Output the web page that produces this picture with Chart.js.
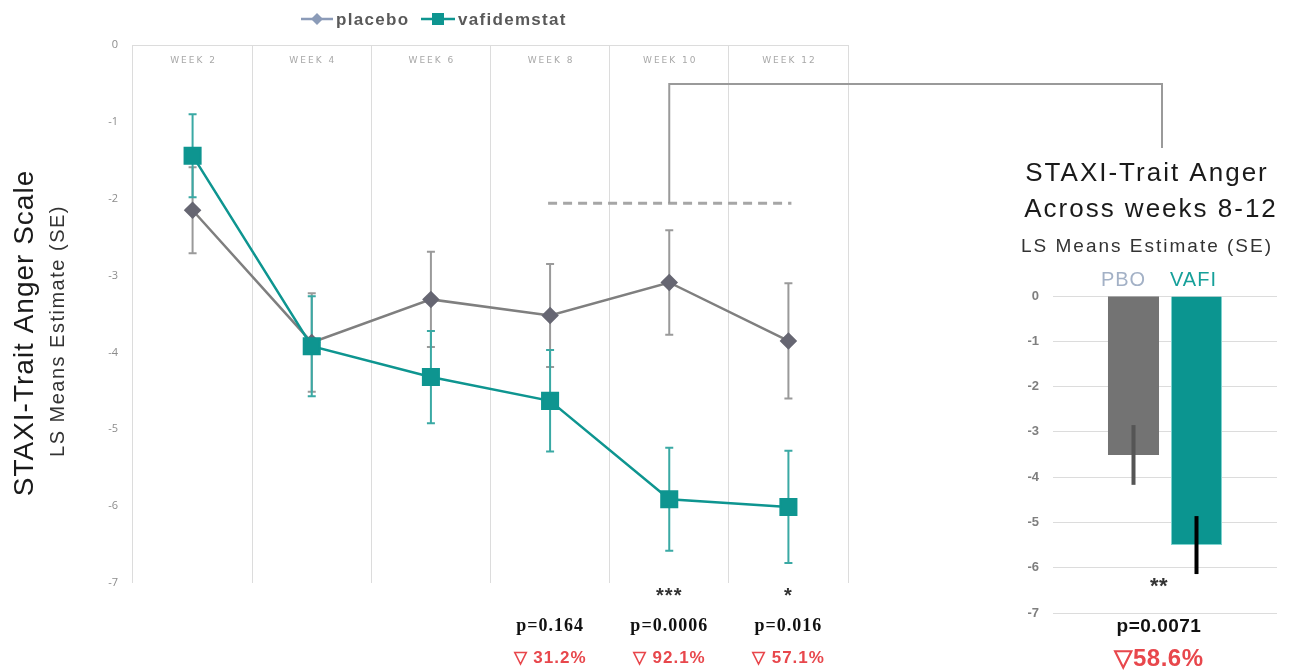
<!DOCTYPE html>
<html>
<head>
<meta charset="utf-8">
<script src="https://cdn.jsdelivr.net/npm/chart.js@4"></script>
<style>
  html, body { margin: 0; padding: 0; background: #fff; }
  #wrap { position: relative; width: 1293px; height: 670px; overflow: hidden; }
  #lineChart { position: absolute; left: 0; top: 0; }
  #barChart { position: absolute; left: 990px; top: 140px; }
</style>
</head>
<body>
<div id="wrap">
  <canvas id="lineChart" width="1293" height="670"></canvas>
  <canvas id="barChart" width="303" height="530"></canvas>
</div>
<script>
// weekly LS means (SE)
var weeks = ["WEEK 2", "WEEK 4", "WEEK 6", "WEEK 8", "WEEK 10", "WEEK 12"];
var placebo = [-2.15, -3.87, -3.31, -3.52, -3.09, -3.85];
var placeboSE = [0.56, 0.64, 0.62, 0.67, 0.68, 0.75];
var vafi = [-1.44, -3.92, -4.32, -4.63, -5.91, -6.01];
var vafiSE = [0.54, 0.65, 0.6, 0.66, 0.67, 0.73];
var yTicks = [0, -1, -2, -3, -4, -5, -6, -7];

var stars = ["", "", "", "", "***", "*"];
var pValues = ["", "", "", "p=0.164", "p=0.0006", "p=0.016"];
var reductions = ["", "", "", "31.2%", "92.1%", "57.1%"];
var pooledLevel = -2.06; // dashed line across weeks 8-12

// pooled weeks 8-12
var barGroups = ["PBO", "VAFI"];
var barValues = [-3.51, -5.5];
var barSE = [0.66, 0.64];
var barStars = "**";
var barP = "p=0.0071";
var barReduction = "58.6%";

var GREY = "#7f7f7f";
var TEAL = "#0e9590";

function errBars(chart, dsIndex, se, color) {
  var meta = chart.getDatasetMeta(dsIndex);
  var y = chart.scales.y;
  var ctx = chart.ctx;
  ctx.save();
  ctx.strokeStyle = color;
  ctx.lineWidth = 2;
  meta.data.forEach(function (pt, i) {
    var v = chart.data.datasets[dsIndex].data[i];
    var top = y.getPixelForValue(v + se[i]);
    var bot = y.getPixelForValue(v - se[i]);
    ctx.beginPath();
    ctx.moveTo(pt.x, top); ctx.lineTo(pt.x, bot);
    ctx.moveTo(pt.x - 4, top); ctx.lineTo(pt.x + 4, top);
    ctx.moveTo(pt.x - 4, bot); ctx.lineTo(pt.x + 4, bot);
    ctx.stroke();
  });
  ctx.restore();
}

var lineDecor = {
  id: "lineDecor",
  beforeDatasetsDraw: function (chart) {
    errBars(chart, 0, placeboSE, "#9a9a9a");
    errBars(chart, 1, vafiSE, "#3aa9a4");
  },
  afterDraw: function (chart) {
    var ctx = chart.ctx;
    var x = chart.scales.x, y = chart.scales.y;
    var area = chart.chartArea;
    ctx.save();

    // week labels inside the plot
    ctx.font = "9px 'DejaVu Sans'";
    ctx.letterSpacing = "2px";
    ctx.fillStyle = "#a8a8a8";
    ctx.textAlign = "center";
    ctx.textBaseline = "middle";
    weeks.forEach(function (w, i) {
      ctx.fillText(w, x.getPixelForValue(i) + 1, area.top + 16);
    });
    ctx.letterSpacing = "0px";

    // dashed pooled line + connector to the bar panel
    var yd = y.getPixelForValue(pooledLevel);
    ctx.strokeStyle = "#a6a6a6";
    ctx.lineWidth = 3;
    ctx.setLineDash([9, 6]);
    ctx.beginPath();
    ctx.moveTo(x.getPixelForValue(3) - 2, yd);
    ctx.lineTo(x.getPixelForValue(5) + 3, yd);
    ctx.stroke();
    ctx.setLineDash([]);
    ctx.strokeStyle = "#9a9a9a";
    ctx.lineWidth = 2;
    var xc = x.getPixelForValue(4);
    ctx.beginPath();
    ctx.moveTo(xc, yd);
    ctx.lineTo(xc, 84);
    ctx.lineTo(1162, 84);
    ctx.lineTo(1162, 148);
    ctx.stroke();

    // y titles
    ctx.fillStyle = "#1a1a1a";
    ctx.save();
    ctx.translate(25, 333);
    ctx.rotate(-Math.PI / 2);
    ctx.font = "28px 'Liberation Sans'";
    ctx.letterSpacing = "1px";
    ctx.fillText("STAXI-Trait Anger Scale", 0, 0);
    ctx.restore();
    ctx.save();
    ctx.translate(58, 331);
    ctx.rotate(-Math.PI / 2);
    ctx.font = "20px 'Liberation Sans'";
    ctx.letterSpacing = "1.5px";
    ctx.fillStyle = "#333";
    ctx.fillText("LS Means Estimate (SE)", 0, 0);
    ctx.restore();

    // significance annotations
    ctx.letterSpacing = "1px";
    weeks.forEach(function (w, i) {
      var cx = x.getPixelForValue(i);
      if (stars[i]) {
        ctx.font = "bold 20px 'Liberation Sans'";
        ctx.fillStyle = "#333";
        ctx.fillText(stars[i], cx, 596);
      }
      if (pValues[i]) {
        ctx.font = "bold 18px 'Liberation Serif'";
        ctx.fillStyle = "#111";
        ctx.fillText(pValues[i], cx, 626);
      }
      if (reductions[i]) {
        ctx.font = "bold 17px 'Liberation Sans'";
        ctx.fillStyle = "#e8474c";
        ctx.fillText("\u25BD " + reductions[i], cx, 658);
      }
    });

    // legend
    ctx.textAlign = "left";
    ctx.font = "bold 17px 'Liberation Sans'";
    ctx.letterSpacing = "1.3px";
    ctx.strokeStyle = "#8b9bb8";
    ctx.lineWidth = 2.5;
    ctx.beginPath(); ctx.moveTo(301, 19); ctx.lineTo(333, 19); ctx.stroke();
    ctx.fillStyle = "#8b9bb8";
    ctx.beginPath();
    ctx.moveTo(317, 13); ctx.lineTo(323, 19); ctx.lineTo(317, 25); ctx.lineTo(311, 19);
    ctx.closePath(); ctx.fill();
    ctx.fillStyle = "#595959";
    ctx.fillText("placebo", 336, 20);
    ctx.strokeStyle = TEAL;
    ctx.beginPath(); ctx.moveTo(421, 19); ctx.lineTo(455, 19); ctx.stroke();
    ctx.fillStyle = TEAL;
    ctx.fillRect(432, 13, 12, 12);
    ctx.fillStyle = "#595959";
    ctx.fillText("vafidemstat", 458, 20);
    ctx.restore();
  }
};

new Chart(document.getElementById("lineChart"), {
  type: "line",
  data: {
    labels: weeks,
    datasets: [
      {
        label: "placebo",
        data: placebo,
        borderColor: GREY,
        backgroundColor: "#666672",
        pointBackgroundColor: "#666672",
        pointBorderColor: "#666672",
        pointStyle: "rectRot",
        pointRadius: 7,
        borderWidth: 2.5,
        order: 1,
      },
      {
        label: "vafidemstat",
        data: vafi,
        borderColor: TEAL,
        backgroundColor: TEAL,
        pointBackgroundColor: TEAL,
        pointBorderColor: TEAL,
        pointStyle: "rect",
        pointRadius: 11,
        borderWidth: 2.5,
        order: 0,
      },
    ],
  },
  options: {
    responsive: false,
    animation: false,
    devicePixelRatio: 1,
    layout: { padding: { left: 93, right: 445, top: 45, bottom: 87 } },
    plugins: { legend: { display: false }, tooltip: { enabled: false } },
    scales: {
      x: {
        offset: true,
        grid: { offset: true, color: "#dcdcdc", drawTicks: false },
        border: { display: false },
        ticks: { display: false },
        afterFit: function (s) { s.height = 0; },
      },
      y: {
        min: yTicks[yTicks.length - 1],
        max: yTicks[0],
        afterBuildTicks: function (s) {
          s.ticks = yTicks.map(function (v) { return { value: v }; });
        },
        afterFit: function (s) { s.width = 40; },
        grid: {
          drawTicks: false,
          color: function (c) { return c.tick && c.tick.value === 0 ? "#dcdcdc" : "rgba(0,0,0,0)"; },
        },
        border: { display: false },
        ticks: {
          padding: 15,
          color: "#8c8c8c",
          font: { family: "'Open Sans'", size: 11 },
        },
      },
    },
  },
  plugins: [lineDecor],
});

var barDecor = {
  id: "barDecor",
  afterDatasetsDraw: function (chart) {
    var ctx = chart.ctx;
    var y = chart.scales.y;
    var colors = ["#555555", "#000000"];
    ctx.save();
    barValues.forEach(function (v, i) {
      var bar = chart.getDatasetMeta(i).data[0];
      var top = y.getPixelForValue(v + barSE[i]);
      var bot = y.getPixelForValue(v - barSE[i]);
      ctx.strokeStyle = colors[i];
      ctx.lineWidth = 4;
      ctx.beginPath();
      ctx.moveTo(bar.x, top); ctx.lineTo(bar.x, bot);
      ctx.stroke();
    });
    ctx.restore();
  },
  afterDraw: function (chart) {
    var ctx = chart.ctx;
    var area = chart.chartArea;
    var cx = 157;
    ctx.save();
    ctx.textAlign = "center";
    ctx.textBaseline = "middle";
    ctx.fillStyle = "#1a1a1a";
    ctx.font = "26px 'Liberation Sans'";
    ctx.letterSpacing = "2px";
    ctx.fillText("STAXI-Trait Anger", cx, 34);
    ctx.fillText("Across weeks 8-12", cx + 4, 70);
    ctx.font = "19px 'Liberation Sans'";
    ctx.letterSpacing = "2px";
    ctx.fillStyle = "#333";
    ctx.fillText("LS Means Estimate (SE)", cx, 107);

    var labelColors = ["#a3b1c6", "#16a09a"];
    ctx.font = "20px 'Liberation Sans'";
    ctx.letterSpacing = "1px";
    barGroups.forEach(function (g, i) {
      var bar = chart.getDatasetMeta(i).data[0];
      ctx.fillStyle = labelColors[i];
      ctx.fillText(g, bar.x - 10 + 7 * i, 140);
    });

    var mid = (area.left + area.right) / 2 - 6;
    ctx.letterSpacing = "0.5px";
    ctx.fillStyle = "#333";
    ctx.font = "bold 22px 'Liberation Sans'";
    ctx.fillText(barStars, mid, 447);
    ctx.fillStyle = "#111";
    ctx.font = "bold 19px 'Liberation Sans'";
    ctx.fillText(barP, mid, 487);
    ctx.fillStyle = "#e8474c";
    ctx.font = "bold 24px 'Liberation Sans'";
    ctx.fillText("\u25BD" + barReduction, mid, 519);
    ctx.restore();
  }
};

new Chart(document.getElementById("barChart"), {
  type: "bar",
  data: {
    labels: [""],
    datasets: [
      { label: barGroups[0], data: [barValues[0]], backgroundColor: "#737373" },
      { label: barGroups[1], data: [barValues[1]], backgroundColor: "#0b9590", borderColor: "#7fd3cf", borderWidth: 1, borderSkipped: "start" },
    ],
  },
  options: {
    responsive: false,
    animation: false,
    devicePixelRatio: 1,
    layout: { padding: { left: 23, right: 16, top: 156, bottom: 57 } },
    plugins: { legend: { display: false }, tooltip: { enabled: false } },
    datasets: { bar: { categoryPercentage: 0.5625, barPercentage: 0.81 } },
    scales: {
      x: { display: false },
      y: {
        min: -7,
        max: 0,
        afterBuildTicks: function (s) {
          s.ticks = yTicks.map(function (v) { return { value: v }; });
        },
        afterFit: function (s) { s.width = 40; },
        grid: { color: "#dcdcdc", drawTicks: false },
        border: { display: false },
        ticks: {
          padding: 14,
          color: "#7f7f7f",
          font: { family: "'Liberation Sans'", size: 13, weight: "bold" },
        },
      },
    },
  },
  plugins: [barDecor],
});
</script>
</body>
</html>
